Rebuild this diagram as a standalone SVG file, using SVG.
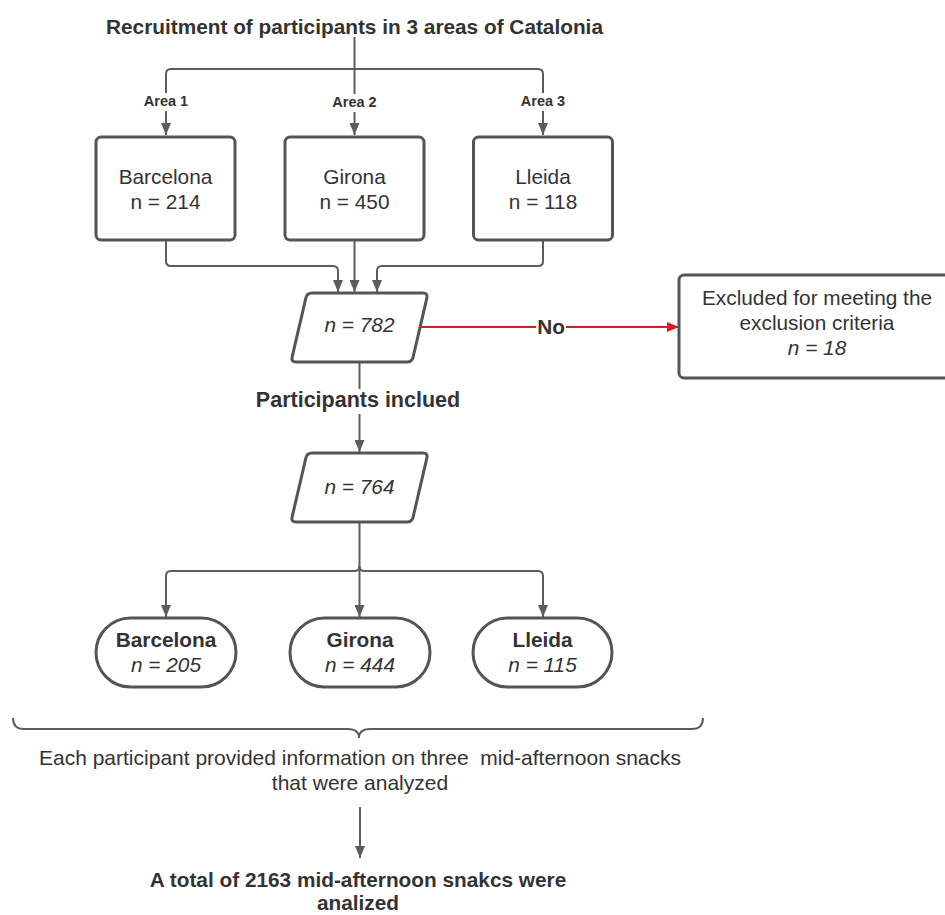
<svg xmlns="http://www.w3.org/2000/svg" width="945" height="915" viewBox="0 0 945 915">
<style>
text{font-family:"Liberation Sans",Arial,sans-serif;fill:#333;text-anchor:middle}
.t{font-size:20.8px}
.b{font-weight:bold}
.i{font-style:italic}
.lbl{font-size:14.5px;font-weight:bold}
.box{fill:#fff;stroke:#555;stroke-width:3}
.ln{fill:none;stroke:#5c5c5c;stroke-width:2}
.red{fill:none;stroke:#d81e1e;stroke-width:2}
.bg{fill:#fff}
</style>
<defs>
<marker id="ah" viewBox="0 0 12 10" refX="12" refY="5" markerWidth="12" markerHeight="10" markerUnits="userSpaceOnUse" orient="auto">
<path d="M0,0 L12,5 L0,10 z" fill="#5c5c5c"/>
</marker>
<marker id="ahr" viewBox="0 0 12 10" refX="12" refY="5" markerWidth="12" markerHeight="10" markerUnits="userSpaceOnUse" orient="auto">
<path d="M0,0 L12,5 L0,10 z" fill="#d81e1e"/>
</marker>
</defs>

<g id="title"><text class="t b" x="354.5" y="34">Recruitment of participants in 3 areas of Catalonia</text></g>

<g id="connectors">
<path class="ln" d="M354.5,37 V135" marker-end="url(#ah)"/>
<path class="ln" d="M354.5,69 H171 Q166,69 166,74 V135" marker-end="url(#ah)"/>
<path class="ln" d="M354.5,69 H538 Q543,69 543,74 V135" marker-end="url(#ah)"/>
<rect class="bg" x="140" y="93" width="52" height="18"/>
<rect class="bg" x="328.5" y="94" width="52" height="18"/>
<rect class="bg" x="517" y="93" width="52" height="18"/>
<text class="lbl" x="166" y="106">Area 1</text>
<text class="lbl" x="354.5" y="107">Area 2</text>
<text class="lbl" x="543" y="106">Area 3</text>

<path class="ln" d="M166,240 V261 Q166,266 171,266 H333 Q338,266 338,271 V292" marker-end="url(#ah)"/>
<path class="ln" d="M354.5,240 V292" marker-end="url(#ah)"/>
<path class="ln" d="M543,240 V261 Q543,266 538,266 H382 Q377,266 377,271 V292" marker-end="url(#ah)"/>

<path class="red" d="M420,327 H679" marker-end="url(#ahr)"/>
<rect class="bg" x="536" y="315" width="30" height="24"/>
<text class="t b" x="551" y="334">No</text>

<path class="ln" d="M359.5,362 V452" marker-end="url(#ah)"/>
<rect class="bg" x="245" y="389" width="230" height="25"/>
<text class="b" style="font-size:21.5px" x="358" y="407">Participants inclued</text>

<path class="ln" d="M359.5,522 V566 Q359.5,571 354.5,571 H171 Q166,571 166,576 V617" marker-end="url(#ah)"/>
<path class="ln" d="M359.5,566 Q359.5,571 364.5,571 H538 Q543,571 543,576 V617" marker-end="url(#ah)"/>
<path class="ln" d="M359.5,566 V617" marker-end="url(#ah)"/>

<path class="ln" d="M13,718 Q13,729 24,729 H348 Q359,729 359,738 Q359,729 370,729 H692 Q703,729 703,718"/>
<path class="ln" d="M360,807 V858" marker-end="url(#ah)"/>
</g>

<g id="barcelona1">
<rect class="box" x="96" y="137" width="139" height="103" rx="5"/>
<text class="t" x="165.5" y="184">Barcelona</text>
<text class="t" x="165.5" y="209">n = 214</text>
</g>
<g id="girona1">
<rect class="box" x="285" y="137" width="139" height="103" rx="5"/>
<text class="t" x="354.5" y="184">Girona</text>
<text class="t" x="354.5" y="209">n = 450</text>
</g>
<g id="lleida1">
<rect class="box" x="473.5" y="137" width="139" height="103" rx="5"/>
<text class="t" x="543" y="184">Lleida</text>
<text class="t" x="543" y="209">n = 118</text>
</g>

<g id="n782">
<path class="box" d="M312,293 L423,293 Q428,293 426.9,297.9 L413.1,357.1 Q412,362 407,362 L296,362 Q291,362 292.1,357.1 L305.9,297.9 Q307,293 312,293 Z"/>
<text class="t i" x="359.5" y="332">n = 782</text>
</g>

<g id="excluded">
<rect class="box" x="679" y="275" width="280" height="103" rx="5"/>
<text class="t" x="817" y="305">Excluded for meeting the</text>
<text class="t" x="817" y="330">exclusion criteria</text>
<text class="t i" x="817" y="355">n = 18</text>
</g>

<g id="n764">
<path class="box" d="M312,453 L423,453 Q428,453 426.9,457.9 L413.1,517.1 Q412,522 407,522 L296,522 Q291,522 292.1,517.1 L305.9,457.9 Q307,453 312,453 Z"/>
<text class="t i" x="359.5" y="494">n = 764</text>
</g>

<g id="barcelona2">
<rect class="box" x="96" y="618" width="140" height="69" rx="34.5"/>
<text class="t b" x="166" y="647">Barcelona</text>
<text class="t i" x="166" y="672">n = 205</text>
</g>
<g id="girona2">
<rect class="box" x="290" y="618" width="140" height="69" rx="34.5"/>
<text class="t b" x="360" y="647">Girona</text>
<text class="t i" x="360" y="672">n = 444</text>
</g>
<g id="lleida2">
<rect class="box" x="473" y="618" width="139" height="69" rx="34.5"/>
<text class="t b" x="542.5" y="647">Lleida</text>
<text class="t i" x="542.5" y="672">n = 115</text>
</g>

<g id="info">
<text style="font-size:21px" x="360" y="765" xml:space="preserve">Each participant provided information on three  mid-afternoon snacks</text>
<text style="font-size:21px" x="360" y="790">that were analyzed</text>
</g>

<g id="total">
<text class="t b" x="358" y="887">A total of 2163 mid-afternoon snakcs were</text>
<text class="t b" x="358" y="910">analized</text>
</g>
</svg>
